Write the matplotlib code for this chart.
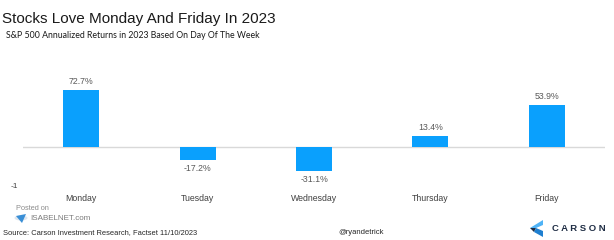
import matplotlib
matplotlib.use('Agg')
import matplotlib.pyplot as plt
from matplotlib.patches import Polygon, Circle

# dados
dias = ['Monday', 'Tuesday', 'Wednesday', 'Thursday', 'Friday']
retornos = [72.7, -17.2, -31.1, 13.4, 53.9]
rotulos = ['72.7%', '-17.2%', '-31.1%', '13.4%', '53.9%']

titulo = 'Stocks Love Monday And Friday In 2023'
subtitulo = 'S&P 500 Annualized Returns in 2023 Based On Day Of The Week'
fonte = 'Source: Carson Investment Research, Factset 11/10/2023'

W, H = 614, 240

def fx(x):
    return x / W

def fy(y):
    return 1 - y / H

plt.rcParams['font.family'] = ['Liberation Sans', 'DejaVu Sans']

fig = plt.figure(figsize=(6.14, 2.4), dpi=100)
fig.patch.set_facecolor('white')

ax = fig.add_axes([fx(23), fy(188), (605 - 23) / W, (188 - 72) / H])
x = list(range(len(dias)))
ax.bar(x, retornos, width=0.31, color='#0aa0fd', zorder=2)
ax.axhline(0, color='#d9d9d9', lw=1, zorder=1)
ax.set_xlim(-0.5, 4.5)
ax.set_ylim(-53, 96)

# rotulos dos valores
for xi, v, r in zip(x, retornos, rotulos):
    off = 6 if v > 0 else -6
    ax.annotate(r, (xi, v), xytext=(0, off), textcoords='offset points',
                ha='center', va='center', fontsize=6.3, color='#595959')

ax.set_xticks(x)
ax.set_xticklabels(dias)
ax.tick_params(axis='x', length=0, pad=4, labelsize=6.3, labelcolor='#404040')
ax.set_yticks([])
for s in ax.spines.values():
    s.set_visible(False)

# textos
fig.text(fx(2), fy(22.5), titulo, fontsize=11, color='#1a1a1a', va='baseline')
fig.text(fx(6), fy(37.5), subtitulo, fontsize=6.3, family='Lato', color='#1a1a1a', va='baseline')
fig.text(fx(11), fy(187), '-1', fontsize=6, color='#404040', va='center')
fig.text(fx(16), fy(208), 'Posted on', fontsize=5.3, color='#8c8c8c', va='center')
fig.text(fx(30), fy(218), 'ISABELNET.com', fontsize=5.8, color='#7a7a7a', va='center')
fig.text(fx(3), fy(233), fonte, fontsize=5.4, color='#262626', va='center')
fig.text(fx(338), fy(232), '@ryandetrick', fontsize=5.5, color='#262626', va='center')
fig.text(fx(552), fy(228.5), 'C A R S O N', fontsize=6.8, color='#1f2d44',
         va='center', fontweight='bold')

# logo isabelnet (aproximado)
fig.add_artist(Circle((fx(21), fy(218)), 6.5 / W, transform=fig.transFigure,
                      facecolor='#dfe6ee', edgecolor='none'))
fig.add_artist(Polygon([(fx(16), fy(216)), (fx(26), fy(214)), (fx(22), fy(223))],
                       closed=True, transform=fig.transFigure,
                       facecolor='#3a8fd6', edgecolor='none'))

# logo carson (chevron)
fig.add_artist(Polygon([(fx(530), fy(228)), (fx(543), fy(220)), (fx(543), fy(225)), (fx(536), fy(228))],
                       closed=True, transform=fig.transFigure,
                       facecolor='#4fb3f6', edgecolor='none'))
fig.add_artist(Polygon([(fx(530), fy(228)), (fx(536), fy(228)), (fx(534), fy(232))],
                       closed=True, transform=fig.transFigure,
                       facecolor='#1f2d44', edgecolor='none'))
fig.add_artist(Polygon([(fx(534), fy(232)), (fx(536), fy(228)), (fx(543), fy(231)), (fx(543), fy(237))],
                       closed=True, transform=fig.transFigure,
                       facecolor='#1e7fd0', edgecolor='none'))

fig.savefig('out.png', dpi=100)
